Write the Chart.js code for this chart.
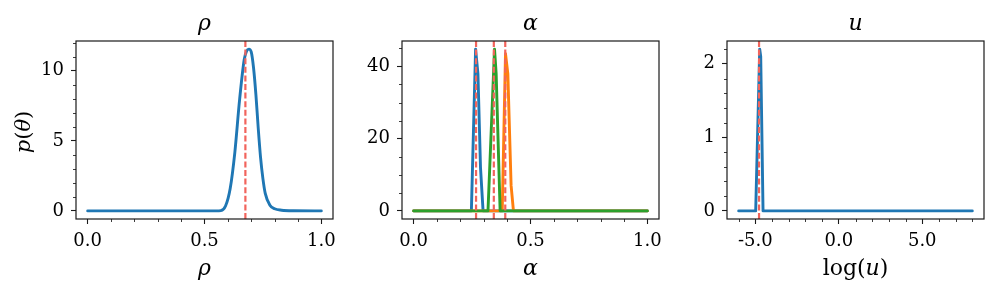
<!DOCTYPE html>
<html>
<head>
<meta charset="utf-8">
<script src="https://cdn.jsdelivr.net/npm/chart.js@4/dist/chart.umd.min.js"></script>
<style>
html, body { margin: 0; padding: 0; background: #fff; }
#wrap { position: relative; width: 996px; height: 296px; }
#wrap canvas { position: absolute; left: 0; top: 0; }
</style>
</head>
<body>
<div id="wrap">
<canvas id="c1" width="996" height="296"></canvas>
<canvas id="c2" width="996" height="296"></canvas>
<canvas id="c3" width="996" height="296"></canvas>
</div>
<script>
// rho posterior
const rhoX = [0, 0.55, 0.57, 0.59, 0.61, 0.63, 0.65, 0.67, 0.68, 0.69, 0.70, 0.71, 0.72, 0.73, 0.74, 0.75, 0.76, 0.78, 0.80, 0.83, 0.88, 1.0];
const rhoY = [0, 0, 0.02, 0.35, 1.6, 4.2, 7.9, 10.8, 11.4, 11.55, 11.35, 10.2, 8.3, 5.9, 3.8, 2.3, 1.25, 0.4, 0.15, 0.05, 0.01, 0];
const rhoTrue = [0.675];

// alpha posteriors (three components)
const alphaX1 = [0, 0.247, 0.265, 0.275, 0.286, 0.297, 1.0];
const alphaY1 = [0, 0, 44.8, 38, 12, 0, 0];
const alphaX2 = [0, 0.379, 0.393, 0.403, 0.417, 0.427, 1.0];
const alphaY2 = [0, 0, 43.5, 38, 7, 0, 0];
const alphaX3 = [0, 0.318, 0.346, 0.353, 0.370, 1.0];
const alphaY3 = [0, 0, 44.8, 38, 0, 0];
const alphaTrue = [0.267, 0.343, 0.392];

// log(u) posterior
const uX = [-6, -4.98, -4.74, -4.68, -4.54, 8];
const uY = [0, 0, 2.2, 2.1, 0, 0];
const uTrue = [-4.78];

// ticks
const unitTicks = [0.0, 0.5, 1.0];
const rhoYTicks = [0, 5, 10];
const alphaYTicks = [0, 20, 40];
const uXTicks = [-5.0, 0.0, 5.0];
const uYTicks = [0, 1, 2];

const BLUE = '#1f77b4', ORANGE = '#ff7f0e', GREEN = '#2ca02c', RED = '#f2645c';
const INK = '#1a1a1a';
const SERIF = '"DejaVu Serif", serif';

function pts(xs, ys) {
  return xs.map((x, i) => ({ x: x, y: ys[i] }));
}

function drawMath(ctx, segs, x, y, size, rotate) {
  ctx.save();
  ctx.translate(x, y);
  if (rotate) ctx.rotate(-Math.PI / 2);
  ctx.fillStyle = '#000';
  ctx.textBaseline = 'alphabetic';
  ctx.textAlign = 'left';
  let w = 0;
  segs.forEach(s => {
    ctx.font = (s.it ? 'italic ' : '') + size + 'px ' + SERIF;
    w += ctx.measureText(s.t).width;
  });
  let cx = -w / 2;
  segs.forEach(s => {
    ctx.font = (s.it ? 'italic ' : '') + size + 'px ' + SERIF;
    ctx.fillText(s.t, cx, 0);
    cx += ctx.measureText(s.t).width;
  });
  ctx.restore();
}

const framePlugin = {
  id: 'frame',
  afterDraw(chart, args, o) {
    const ctx = chart.ctx, a = chart.chartArea;
    const xs = chart.scales.x, ys = chart.scales.y;
    ctx.save();
    ctx.strokeStyle = INK;
    ctx.lineWidth = 0.85;
    ctx.beginPath();
    for (let k = Math.ceil(xs.min / o.xMinor); k * o.xMinor <= xs.max; k++) {
      const v = k * o.xMinor;
      if (o.xMajor.some(m => Math.abs(m - v) < 1e-9)) continue;
      const px = Math.round(xs.getPixelForValue(v)) + 0.5;
      ctx.moveTo(px, a.bottom);
      ctx.lineTo(px, a.bottom + 3);
    }
    for (let k = Math.ceil(ys.min / o.yMinor); k * o.yMinor <= ys.max; k++) {
      const v = k * o.yMinor;
      if (o.yMajor.some(m => Math.abs(m - v) < 1e-9)) continue;
      const py = Math.round(ys.getPixelForValue(v)) + 0.5;
      ctx.moveTo(a.left, py);
      ctx.lineTo(a.left - 3, py);
    }
    ctx.stroke();
    ctx.lineWidth = 1.2;
    ctx.strokeRect(a.left, a.top, a.right - a.left, a.bottom - a.top);
    ctx.restore();
    const cx = (a.left + a.right) / 2;
    drawMath(ctx, o.title, cx, 30, 22, false);
    drawMath(ctx, o.xlabel, cx, 275, 22, false);
    if (o.ylabel) drawMath(ctx, o.ylabel, 30, (a.top + a.bottom) / 2 + 2, 21, true);
  }
};

function makePanel(id, p) {
  const yw = 60, xh = 40;
  const datasets = [];
  p.truth.forEach(t => {
    datasets.push({
      data: [{ x: t, y: p.yMin }, { x: t, y: p.yMax }],
      borderColor: RED, borderWidth: 2.2, borderDash: [6, 2.6],
      pointRadius: 0, order: 0
    });
  });
  p.series.forEach((s, i) => {
    datasets.push({
      data: pts(s.x, s.y),
      borderColor: s.color, borderWidth: 2.9,
      pointRadius: 0, tension: 0,
      cubicInterpolationMode: s.smooth ? 'monotone' : 'default',
      borderJoinStyle: 'round', borderCapStyle: 'round',
      order: p.series.length - i
    });
  });
  const tickFont = { family: SERIF, size: 18 };
  new Chart(document.getElementById(id), {
    type: 'line',
    data: { datasets: datasets },
    options: {
      responsive: false,
      animation: false,
      events: [],
      layout: {
        padding: { left: p.area[0] - yw, top: p.area[1], right: 996 - p.area[2], bottom: 296 - p.area[3] - xh }
      },
      plugins: { legend: { display: false }, tooltip: { enabled: false }, title: { display: false },
        frame: { xMinor: p.xMinor, yMinor: p.yMinor, xMajor: p.xTicks, yMajor: p.yTicks,
                 title: p.title, xlabel: p.xlabel, ylabel: p.ylabel } },
      scales: {
        x: {
          type: 'linear', min: p.xMin, max: p.xMax,
          afterBuildTicks: sc => { sc.ticks = p.xTicks.map(v => ({ value: v })); },
          afterFit: sc => { sc.height = xh; },
          grid: { drawOnChartArea: false, drawTicks: true, tickLength: 5, tickWidth: 1.1, tickColor: INK },
          border: { display: false },
          ticks: { font: tickFont, color: '#000', padding: 7, maxRotation: 0, autoSkip: false,
                   callback: v => v.toFixed(1) }
        },
        y: {
          type: 'linear', min: p.yMin, max: p.yMax,
          afterBuildTicks: sc => { sc.ticks = p.yTicks.map(v => ({ value: v })); },
          afterFit: sc => { sc.width = yw; },
          grid: { drawOnChartArea: false, drawTicks: true, tickLength: 5, tickWidth: 1.1, tickColor: INK },
          border: { display: false },
          ticks: { font: tickFont, color: '#000', padding: 7, autoSkip: false,
                   callback: v => String(v) }
        }
      }
    },
    plugins: [framePlugin]
  });
}

makePanel('c1', {
  area: [76, 41, 333, 219],
  xMin: -0.05, xMax: 1.05, yMin: -0.5775, yMax: 12.1275,
  xTicks: unitTicks, yTicks: rhoYTicks, xMinor: 0.1, yMinor: 1,
  series: [{ x: rhoX, y: rhoY, color: BLUE, smooth: true }],
  truth: rhoTrue,
  title: [{ t: 'ρ', it: true }],
  xlabel: [{ t: 'ρ', it: true }],
  ylabel: [{ t: 'p', it: true }, { t: '(' }, { t: 'θ', it: true }, { t: ')' }]
});

makePanel('c2', {
  area: [402, 41, 659, 219],
  xMin: -0.05, xMax: 1.05, yMin: -2.24, yMax: 47.04,
  xTicks: unitTicks, yTicks: alphaYTicks, xMinor: 0.1, yMinor: 5,
  series: [
    { x: alphaX1, y: alphaY1, color: BLUE },
    { x: alphaX2, y: alphaY2, color: ORANGE },
    { x: alphaX3, y: alphaY3, color: GREEN }
  ],
  truth: alphaTrue,
  title: [{ t: 'α', it: true }],
  xlabel: [{ t: 'α', it: true }],
  ylabel: null
});

makePanel('c3', {
  area: [727, 41, 984, 219],
  xMin: -6.7, xMax: 8.7, yMin: -0.11, yMax: 2.31,
  xTicks: uXTicks, yTicks: uYTicks, xMinor: 1, yMinor: 0.2,
  series: [{ x: uX, y: uY, color: BLUE }],
  truth: uTrue,
  title: [{ t: 'u', it: true }],
  xlabel: [{ t: 'log' }, { t: '(' }, { t: 'u', it: true }, { t: ')' }],
  ylabel: null
});
</script>
</body>
</html>
